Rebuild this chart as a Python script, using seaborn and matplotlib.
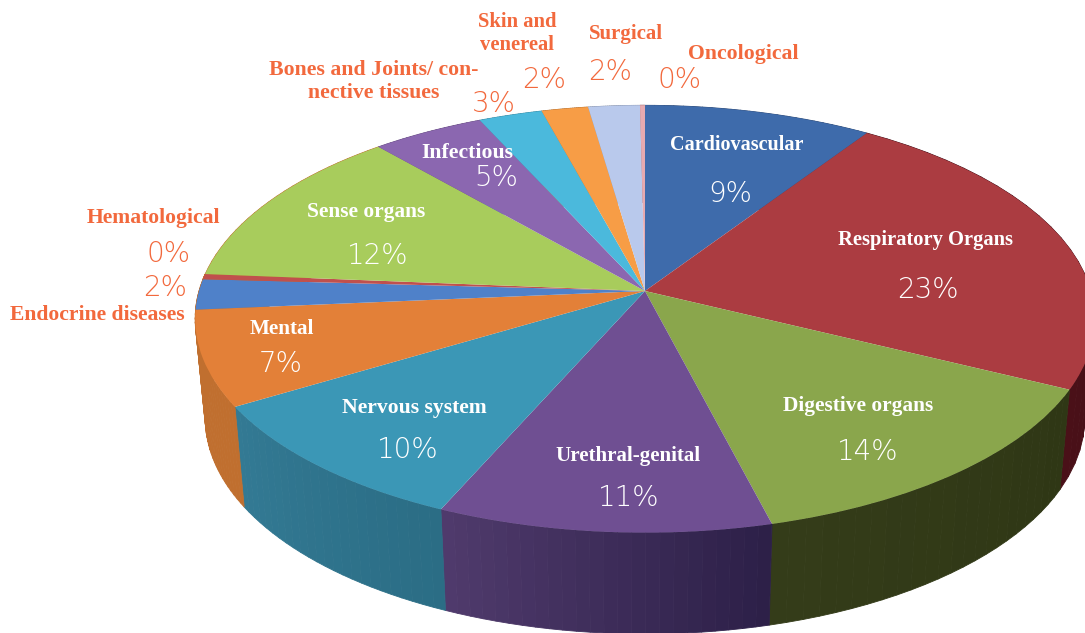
import numpy as np
import matplotlib
matplotlib.use("Agg")
import matplotlib.pyplot as plt
import matplotlib.transforms as mtransforms
from matplotlib.collections import PolyCollection
import seaborn as sns

# values (labels on the chart are rounded)
categories = ["Cardiovascular", "Respiratory Organs", "Digestive organs", "Urethral-genital",
              "Nervous system", "Mental", "Endocrine diseases", "Hematological", "Sense organs",
              "Infectious", "Bones and Joints/ con-\nnective tissues", "Skin and\nvenereal",
              "Surgical", "Oncological"]
shares = [9.3, 23.0, 13.7, 10.6, 9.8, 7.2, 2.3, 0.4, 12.3, 4.6, 2.6, 1.9, 2.1, 0.2]
pct_labels = ["9%", "23%", "14%", "11%", "10%", "7%", "2%", "0%", "12%", "5%", "3%", "2%", "2%", "0%"]

top_colors = ["#3e6bab", "#ab3c41", "#8aa64c", "#6f4f92", "#3b97b6", "#e38038", "#4f81c9",
              "#c0504d", "#a8cc5c", "#8b67b0", "#4bb9dc", "#f79d46", "#b9c9ec", "#e6aab0"]
# only the front slices show a wall, the sliver left of Mental reads as orange
wall_left = ["#2c4a78", "#4a1018", "#343c19", "#4f3a6c", "#337a94", "#c06f2f", "#c06f2f",
             "#c06f2f", "#c06f2f", "#664b82", "#378aa4", "#b87434", "#8a96b0", "#aa7e82"]
wall_right = ["#2c4a78", "#3e0d16", "#2f3715", "#2d2048", "#2b6d85", "#c06f2f", "#c06f2f",
              "#c06f2f", "#c06f2f", "#664b82", "#378aa4", "#b87434", "#8a96b0", "#aa7e82"]

name_xy = [(737, 143), (926, 239), (858, 405), (628, 455), (414, 407), (282, 328), (97, 314),
           (153, 216), (366, 211), (467, 152), (374, 80), (517, 32), (626, 32), (743, 52)]
name_sizes = [14.5, 14.8, 15.4, 15.1, 15.6, 15.2, 15.6, 15.6, 15.4, 15.7, 15.7, 14.9, 15.0, 15.7]
pct_xy = [(730, 193), (928, 288), (868, 451), (629, 497), (408, 448), (281, 362), (165, 286),
          (169, 252), (378, 254), (496, 177), (494, 103), (544, 79), (610, 71), (680, 79)]
outside = {"Endocrine diseases", "Hematological", "Bones and Joints/ con-\nnective tissues",
           "Skin and\nvenereal", "Surgical", "Oncological"}
ORANGE = "#f2693d"

CENTER_X = 645


class TiltedDisc(mtransforms.Transform):
    """Unit disc seen in perspective, output in pixel-like data coordinates."""
    input_dims = 2
    output_dims = 2

    def __init__(self, apex_y, a, b, tilt=0.1308):
        super().__init__()
        self.apex_y, self.a, self.b, self.tilt = apex_y, a, b, tilt

    def transform_non_affine(self, values):
        x, y = np.asarray(values).T
        w = 1 + self.tilt * y
        return np.column_stack([CENTER_X + self.a * x / w, self.apex_y - self.b * y / w])


top_disc = TiltedDisc(291, 446, 210)
bottom_disc = TiltedDisc(390, 436, 212)

sns.set_theme(style="white")
fig, ax = plt.subplots(figsize=(10.85, 6.33), dpi=100)
fig.subplots_adjust(0, 0, 1, 1)

# side wall
edges = np.cumsum([0] + shares) / sum(shares) * 2 * np.pi
for i in range(len(shares)):
    theta = np.linspace(edges[i], edges[i + 1], 25)
    rim = np.column_stack([np.sin(theta), np.cos(theta)])
    up = top_disc.transform_non_affine(rim)
    down = bottom_disc.transform_non_affine(rim)
    quads = [[up[j], up[j + 1], down[j + 1], down[j]] for j in range(len(theta) - 1)]
    pal = sns.blend_palette([wall_left[i], wall_right[i]], len(quads))
    # front of the pie runs right to left as theta grows
    pal = list(reversed(pal))
    ax.add_collection(PolyCollection(quads, facecolors=pal, edgecolors=pal, linewidths=0.6))

# top face
wedges, _ = ax.pie(shares, colors=sns.color_palette(top_colors), startangle=90, counterclock=False,
                   wedgeprops={"linewidth": 0})
for w in wedges:
    w.set_transform(top_disc + ax.transData)

ax.set_aspect("auto")
ax.set_xlim(0, 1085)
ax.set_ylim(633, 0)
ax.axis("off")

for name, size, (x, y) in zip(categories, name_sizes, name_xy):
    ax.text(x, y + 1.5, name, ha="center", va="center", fontsize=size, fontweight="bold", linespacing=1.25,
            family="Liberation Serif", color=ORANGE if name in outside else "white")
for name, pct, (x, y) in zip(categories, pct_labels, pct_xy):
    ax.text(x, y + 1.5, pct, ha="center", va="center", fontsize=20, fontweight="light",
            family=["DejaVu Sans"], color=ORANGE if name in outside else "white")

fig.savefig("out.png", dpi=100)
plt.close(fig)
